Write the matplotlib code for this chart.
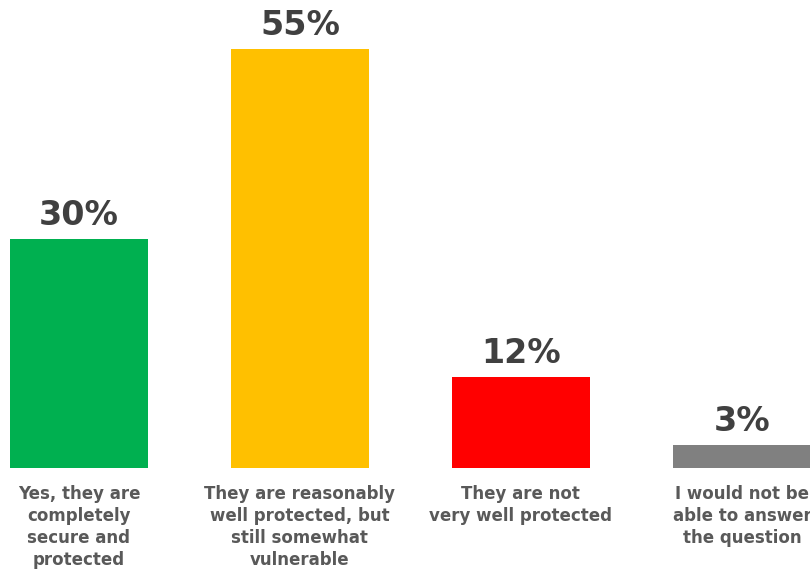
import matplotlib.pyplot as plt

# Respuestas y porcentajes
categorias = ["Yes, they are\ncompletely\nsecure and\nprotected",
              "They are reasonably\nwell protected, but\nstill somewhat\nvulnerable",
              "They are not\nvery well protected",
              "I would not be\nable to answer\nthe question"]
porcentajes = [30, 55, 12, 3]
colores = ["#00B050", "#FFC000", "#FF0000", "#808080"]

fig = plt.figure(figsize=(8.1, 5.71), dpi=100)
ax = fig.add_axes([0, 0.1804, 1, 0.8196])

x = list(range(len(porcentajes)))
barras = ax.bar(x, porcentajes, width=0.624, color=colores)

for xi, p in zip(x, porcentajes):
    ax.annotate(f"{p}%", (xi, p), xytext=(0, 5), textcoords="offset points",
                ha="center", va="bottom", fontsize=24, fontweight="bold",
                color="#404040")

for xi, c in zip(x, categorias):
    ax.annotate(c, (xi, 0), xytext=(0, -12), textcoords="offset points",
                ha="center", va="top", fontsize=12, fontweight="bold",
                color="#595959", linespacing=1.3, annotation_clip=False)

ax.set_xlim(-0.357, 3.308)
ax.set_ylim(0, 61.4)
ax.axis("off")

fig.savefig("out.png", dpi=100)
